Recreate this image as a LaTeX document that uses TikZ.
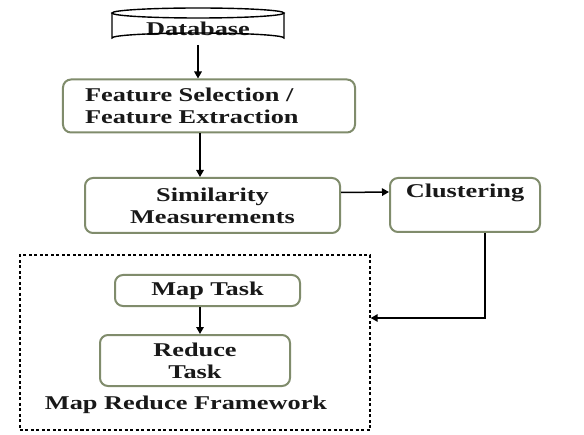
\documentclass[tikz,border=0pt]{standalone}
\usepackage{fontspec}
\newfontfamily\diafont[FakeStretch=1.35]{Liberation Serif}
\usetikzlibrary{arrows.meta,calc}
\definecolor{boxgreen}{RGB}{128,140,108}
\tikzset{
  txt/.style={font=\diafont\bfseries\fontsize{19.5bp}{22bp}\selectfont, text=black!90},
  rbox/.style={txt, draw=boxgreen, line width=2bp, rounded corners=8bp, fill=white, align=center, inner sep=2bp},
  arr/.style={line width=1.5bp, -{Triangle[length=7bp,width=7.5bp]}},
}
\begin{document}
\begin{tikzpicture}[x=1bp,y=-1bp]
\useasboundingbox[fill=white] (0,0) rectangle (584,435);
% database cylinder
\node[txt] (db) at (198,29) {Database};
\draw[line width=1.4bp] (112,13) -- (112,38) arc[start angle=180,end angle=360,x radius=86,y radius=5] -- (284,13);
\draw[line width=1.4bp] (198,13) ellipse[x radius=86,y radius=5];
% boxes
\node[rbox, align=left, text width=248bp, inner xsep=22bp, minimum height=53bp] (fe) at (209,106) {Feature Selection /\\Feature Extraction};
\node[rbox, minimum width=255bp, minimum height=55bp] (sim) at (212.5,205.5) {Similarity\\Measurements};
\node[rbox, minimum width=150bp, minimum height=54bp] (clu) at (465,205) {Clustering\\\strut};
\node[draw, dashed, dash pattern=on 3bp off 2.5bp, line width=1.4bp, minimum width=350bp, minimum height=175bp] (frame) at (195,342.5) {};
\node[rbox, minimum width=185bp, minimum height=31bp] (map) at (207.5,290.5) {Map Task};
\node[rbox, minimum width=190bp, minimum height=51bp] (red) at (195,360.5) {Reduce\\Task};
\node[txt] (lbl) at (186,405) {Map Reduce Framework};
% connectors
\draw[arr] (db.south |- 45,45) -- (fe.north -| 198,0);
\draw[arr] (fe.south -| 200,0) -- (sim.north -| 200,0);
\draw[arr] ([yshift=13bp]sim.east) -- ([yshift=13bp]clu.west);
\coordinate (turn) at (485,318);
\draw[arr] (clu.south -| turn) -- (turn) -- (frame.east |- turn);
\draw[arr] (map.south -| 200,0) -- (red.north -| 200,0);
\end{tikzpicture}
\end{document}
